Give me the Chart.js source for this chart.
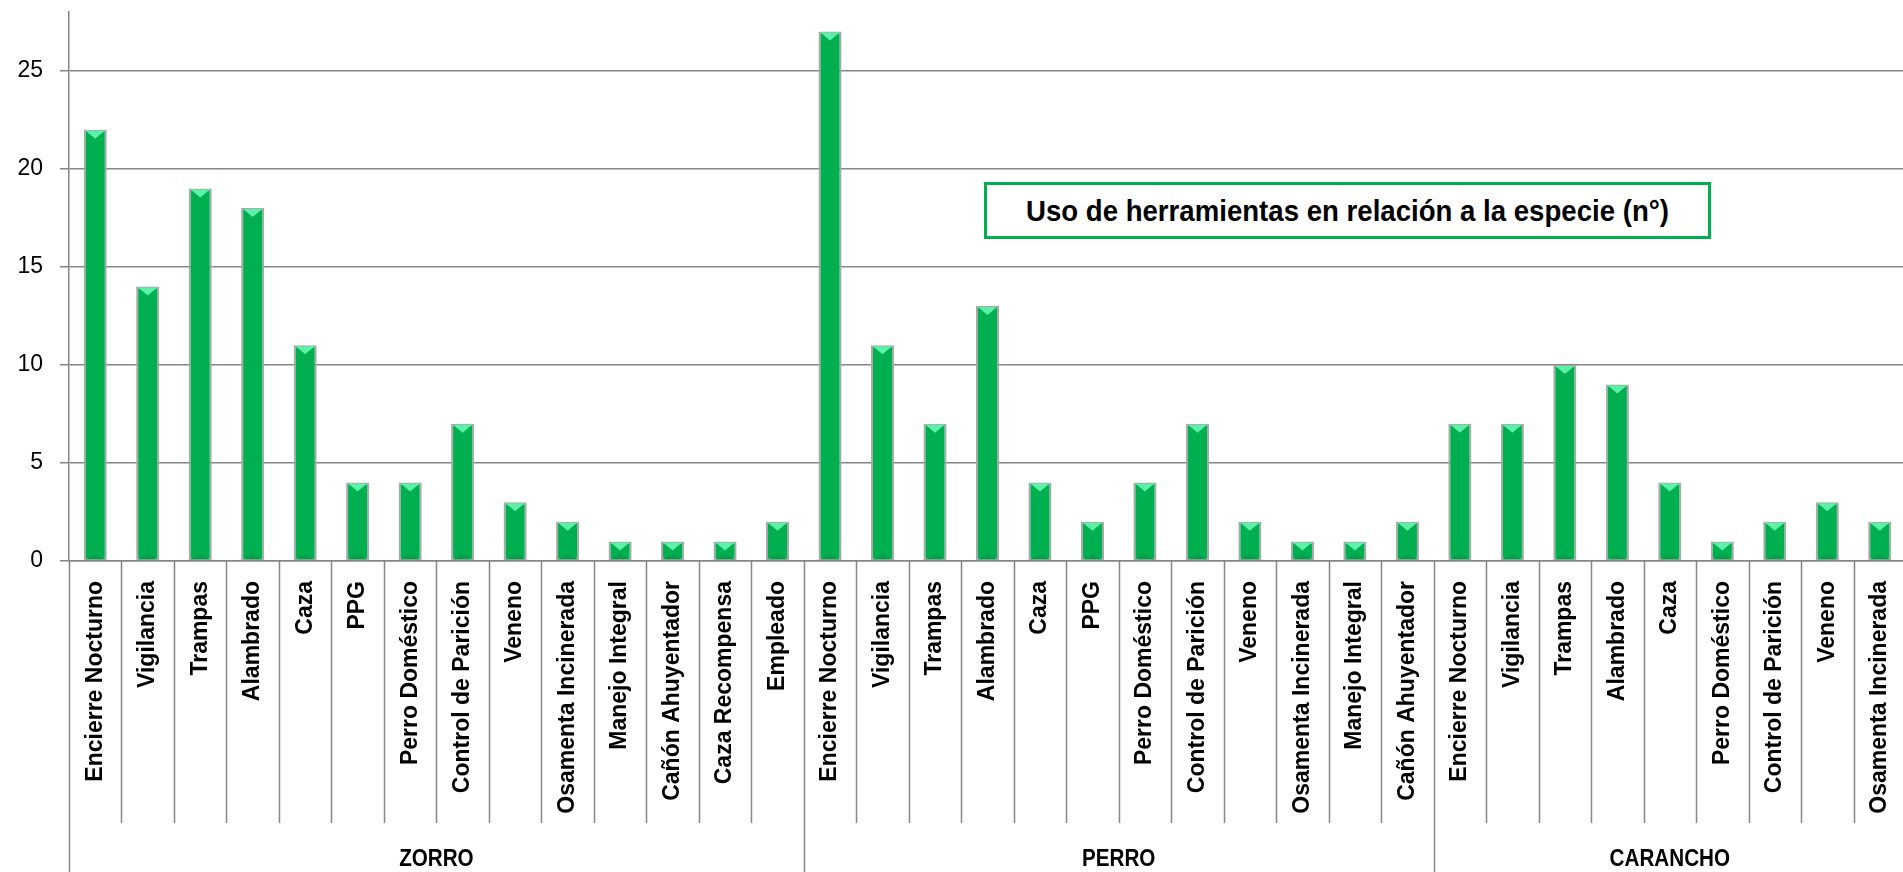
<!DOCTYPE html>
<html>
<head>
<meta charset="utf-8">
<script src="https://cdn.jsdelivr.net/npm/chart.js@4/dist/chart.umd.min.js"></script>
<style>
  html, body { margin: 0; padding: 0; background: #fff; overflow: hidden; }
  #wrap { position: relative; width: 1910px; height: 872px; }
  #titleBox {
    position: absolute; left: 984px; top: 182px; width: 721px; height: 51px;
    border: 3px solid #00b050; background: #fff;
    display: flex; align-items: center; justify-content: center; color: #000;
  }
  #titleBox span {
    font: bold 30px 'Liberation Sans', sans-serif;
    transform: scaleX(0.92); white-space: nowrap;
  }
</style>
</head>
<body>
<div id="wrap">
  <canvas id="chart" width="1910" height="872"></canvas>
  <div id="titleBox"><span>Uso de herramientas en relación a la especie (n°)</span></div>
</div>
<script>
const groups = ["ZORRO", "PERRO", "CARANCHO"];

const zorroTools = ["Encierre Nocturno", "Vigilancia", "Trampas", "Alambrado", "Caza", "PPG",
  "Perro Doméstico", "Control de Parición", "Veneno", "Osamenta Incinerada", "Manejo Integral",
  "Cañón Ahuyentador", "Caza Recompensa", "Empleado"];
const zorroValues = [22, 14, 19, 18, 11, 4, 4, 7, 3, 2, 1, 1, 1, 2];

const perroTools = ["Encierre Nocturno", "Vigilancia", "Trampas", "Alambrado", "Caza", "PPG",
  "Perro Doméstico", "Control de Parición", "Veneno", "Osamenta Incinerada", "Manejo Integral",
  "Cañón Ahuyentador"];
const perroValues = [27, 11, 7, 13, 4, 2, 4, 7, 2, 1, 1, 2];

const caranchoTools = ["Encierre Nocturno", "Vigilancia", "Trampas", "Alambrado", "Caza",
  "Perro Doméstico", "Control de Parición", "Veneno", "Osamenta Incinerada"];
const caranchoValues = [7, 7, 10, 9, 4, 1, 2, 3, 2];

const yTicks = [0, 5, 10, 15, 20, 25];

const labels = [...zorroTools, ...perroTools, ...caranchoTools];
const values = [...zorroValues, ...perroValues, ...caranchoValues];
const groupSizes = [zorroTools.length, perroTools.length, caranchoTools.length];

// bevel on top of each bar, like the excel 3d look
const bevel = {
  id: "bevel",
  afterDatasetsDraw(chart) {
    const ctx = chart.ctx;
    chart.getDatasetMeta(0).data.forEach(bar => {
      const p = bar.getProps(["x", "y", "width", "base"], true);
      const l = p.x - p.width / 2 + 2, r = p.x + p.width / 2 - 2;
      ctx.save();
      ctx.fillStyle = "#5cf0a8";
      ctx.beginPath();
      ctx.moveTo(l, p.y + 1);
      ctx.lineTo(r, p.y + 1);
      ctx.lineTo(p.x, p.y + 9);
      ctx.closePath();
      ctx.fill();
      ctx.fillStyle = "#00a048";
      ctx.beginPath();
      ctx.moveTo(l, p.base - 1);
      ctx.lineTo(r, p.base - 1);
      ctx.lineTo(p.x, p.base - 7);
      ctx.closePath();
      ctx.fill();
      ctx.restore();
    });
  }
};

// category separators and group labels under the axis
const groupAxis = {
  id: "groupAxis",
  afterDraw(chart) {
    const ctx = chart.ctx;
    const xs = chart.scales.x;
    const n = labels.length;
    const step = xs.width / n;
    const top = xs.top;
    ctx.save();
    ctx.strokeStyle = "#868686";
    ctx.lineWidth = 1.5;
    const bounds = [0];
    groupSizes.forEach(s => bounds.push(bounds[bounds.length - 1] + s));
    for (let i = 0; i <= n; i++) {
      const x = Math.round(xs.left + i * step) + 0.5;
      const isGroup = bounds.includes(i);
      ctx.beginPath();
      ctx.moveTo(x, top);
      ctx.lineTo(x, isGroup ? chart.height : top + 262);
      ctx.stroke();
    }
    ctx.fillStyle = "#000";
    ctx.font = "bold 24px 'Liberation Sans', sans-serif";
    ctx.textAlign = "center";
    ctx.textBaseline = "alphabetic";
    groups.forEach((g, i) => {
      const cx = xs.left + (bounds[i] + bounds[i + 1]) / 2 * step;
      ctx.save();
      ctx.translate(cx, top + 305);
      ctx.scale(0.86, 1);
      ctx.fillText(g, 0, 0);
      ctx.restore();
    });
    ctx.restore();
  }
};

new Chart(document.getElementById("chart"), {
  type: "bar",
  data: {
    labels: labels,
    datasets: [{
      data: values,
      backgroundColor: "#00b050",
      borderColor: "#a9a9a9",
      borderWidth: 2,
      borderSkipped: false,
      categoryPercentage: 1,
      barPercentage: 0.44
    }]
  },
  options: {
    responsive: false,
    animation: false,
    layout: { padding: { top: 12, right: 4, left: 0, bottom: 0 } },
    plugins: { legend: { display: false }, tooltip: { enabled: false } },
    scales: {
      x: {
        grid: { display: false },
        border: { display: true, color: "#868686", width: 1.5 },
        ticks: {
          autoSkip: false,
          minRotation: 90,
          maxRotation: 90,
          padding: 12,
          color: "#000",
          font: { family: "'Liberation Sans', sans-serif", size: 23, weight: "bold" }
        },
        afterFit(scale) {
          scale.height = 311;
          scale.paddingLeft = 0;
          scale.paddingRight = 0;
        }
      },
      y: {
        min: 0,
        max: 28,
        afterBuildTicks(scale) {
          scale.ticks = yTicks.map(v => ({ value: v }));
        },
        grid: { color: "#868686", lineWidth: 1.5, tickLength: 9 },
        border: { display: true, color: "#868686", width: 1.5 },
        ticks: {
          color: "#000",
          padding: 17,
          font: { family: "'Liberation Sans', sans-serif", size: 23 }
        },
        afterFit(scale) {
          scale.width = 69;
          scale.paddingTop = 0;
          scale.paddingBottom = 0;
        }
      }
    }
  },
  plugins: [bevel, groupAxis]
});
</script>
</body>
</html>
